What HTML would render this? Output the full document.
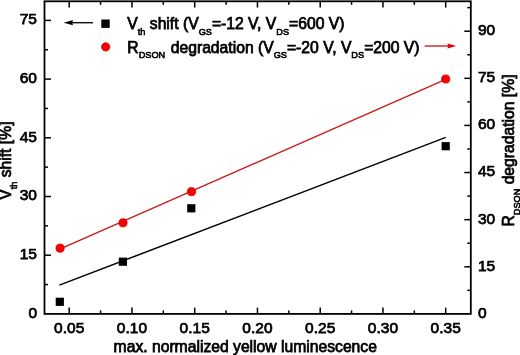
<!DOCTYPE html>
<html><head><meta charset="utf-8"><style>
html,body{margin:0;padding:0;background:#fff;}
body{width:520px;height:355px;overflow:hidden;}
svg{display:block;}
text{font-family:"Liberation Sans",Arial,sans-serif;fill:#000;stroke:#000;}
.tl{font-size:15.5px;stroke-width:0.75px;}
.t{font-size:15.7px;stroke-width:0.75px;}
.s{font-size:9.2px;stroke-width:0.6px;}
</style></head><body>
<svg width="520" height="355" viewBox="0 0 520 355">
<rect x="44.5" y="1.3" width="426.30" height="312.60" fill="none" stroke="#000" stroke-width="1.8"/>
<line x1="69.20" y1="313.9" x2="69.20" y2="307.60" stroke="#000" stroke-width="1.5"/>
<line x1="69.20" y1="1.3" x2="69.20" y2="7.60" stroke="#000" stroke-width="1.5"/>
<text class="tl" x="69.20" y="333.4" text-anchor="middle">0.05</text>
<line x1="100.58" y1="313.9" x2="100.58" y2="310.40" stroke="#000" stroke-width="1.5"/>
<line x1="100.58" y1="1.3" x2="100.58" y2="4.80" stroke="#000" stroke-width="1.5"/>
<line x1="131.95" y1="313.9" x2="131.95" y2="307.60" stroke="#000" stroke-width="1.5"/>
<line x1="131.95" y1="1.3" x2="131.95" y2="7.60" stroke="#000" stroke-width="1.5"/>
<text class="tl" x="131.95" y="333.4" text-anchor="middle">0.10</text>
<line x1="163.32" y1="313.9" x2="163.32" y2="310.40" stroke="#000" stroke-width="1.5"/>
<line x1="163.32" y1="1.3" x2="163.32" y2="4.80" stroke="#000" stroke-width="1.5"/>
<line x1="194.70" y1="313.9" x2="194.70" y2="307.60" stroke="#000" stroke-width="1.5"/>
<line x1="194.70" y1="1.3" x2="194.70" y2="7.60" stroke="#000" stroke-width="1.5"/>
<text class="tl" x="194.70" y="333.4" text-anchor="middle">0.15</text>
<line x1="226.07" y1="313.9" x2="226.07" y2="310.40" stroke="#000" stroke-width="1.5"/>
<line x1="226.07" y1="1.3" x2="226.07" y2="4.80" stroke="#000" stroke-width="1.5"/>
<line x1="257.45" y1="313.9" x2="257.45" y2="307.60" stroke="#000" stroke-width="1.5"/>
<line x1="257.45" y1="1.3" x2="257.45" y2="7.60" stroke="#000" stroke-width="1.5"/>
<text class="tl" x="257.45" y="333.4" text-anchor="middle">0.20</text>
<line x1="288.82" y1="313.9" x2="288.82" y2="310.40" stroke="#000" stroke-width="1.5"/>
<line x1="288.82" y1="1.3" x2="288.82" y2="4.80" stroke="#000" stroke-width="1.5"/>
<line x1="320.20" y1="313.9" x2="320.20" y2="307.60" stroke="#000" stroke-width="1.5"/>
<line x1="320.20" y1="1.3" x2="320.20" y2="7.60" stroke="#000" stroke-width="1.5"/>
<text class="tl" x="320.20" y="333.4" text-anchor="middle">0.25</text>
<line x1="351.57" y1="313.9" x2="351.57" y2="310.40" stroke="#000" stroke-width="1.5"/>
<line x1="351.57" y1="1.3" x2="351.57" y2="4.80" stroke="#000" stroke-width="1.5"/>
<line x1="382.95" y1="313.9" x2="382.95" y2="307.60" stroke="#000" stroke-width="1.5"/>
<line x1="382.95" y1="1.3" x2="382.95" y2="7.60" stroke="#000" stroke-width="1.5"/>
<text class="tl" x="382.95" y="333.4" text-anchor="middle">0.30</text>
<line x1="414.33" y1="313.9" x2="414.33" y2="310.40" stroke="#000" stroke-width="1.5"/>
<line x1="414.33" y1="1.3" x2="414.33" y2="4.80" stroke="#000" stroke-width="1.5"/>
<line x1="445.70" y1="313.9" x2="445.70" y2="307.60" stroke="#000" stroke-width="1.5"/>
<line x1="445.70" y1="1.3" x2="445.70" y2="7.60" stroke="#000" stroke-width="1.5"/>
<text class="tl" x="445.70" y="333.4" text-anchor="middle">0.35</text>
<line x1="44.5" y1="284.55" x2="48.0" y2="284.55" stroke="#000" stroke-width="1.5"/>
<line x1="44.5" y1="255.20" x2="51.0" y2="255.20" stroke="#000" stroke-width="1.5"/>
<line x1="44.5" y1="225.85" x2="48.0" y2="225.85" stroke="#000" stroke-width="1.5"/>
<line x1="44.5" y1="196.50" x2="51.0" y2="196.50" stroke="#000" stroke-width="1.5"/>
<line x1="44.5" y1="167.15" x2="48.0" y2="167.15" stroke="#000" stroke-width="1.5"/>
<line x1="44.5" y1="137.80" x2="51.0" y2="137.80" stroke="#000" stroke-width="1.5"/>
<line x1="44.5" y1="108.45" x2="48.0" y2="108.45" stroke="#000" stroke-width="1.5"/>
<line x1="44.5" y1="79.10" x2="51.0" y2="79.10" stroke="#000" stroke-width="1.5"/>
<line x1="44.5" y1="49.75" x2="48.0" y2="49.75" stroke="#000" stroke-width="1.5"/>
<line x1="44.5" y1="20.40" x2="51.0" y2="20.40" stroke="#000" stroke-width="1.5"/>
<text class="tl" x="37.0" y="317.80" text-anchor="end">0</text>
<text class="tl" x="37.0" y="259.10" text-anchor="end">15</text>
<text class="tl" x="37.0" y="200.40" text-anchor="end">30</text>
<text class="tl" x="37.0" y="141.70" text-anchor="end">45</text>
<text class="tl" x="37.0" y="83.00" text-anchor="end">60</text>
<text class="tl" x="37.0" y="24.30" text-anchor="end">75</text>
<line x1="470.8" y1="290.34" x2="467.3" y2="290.34" stroke="#000" stroke-width="1.5"/>
<line x1="470.8" y1="266.78" x2="464.3" y2="266.78" stroke="#000" stroke-width="1.5"/>
<line x1="470.8" y1="243.22" x2="467.3" y2="243.22" stroke="#000" stroke-width="1.5"/>
<line x1="470.8" y1="219.67" x2="464.3" y2="219.67" stroke="#000" stroke-width="1.5"/>
<line x1="470.8" y1="196.11" x2="467.3" y2="196.11" stroke="#000" stroke-width="1.5"/>
<line x1="470.8" y1="172.55" x2="464.3" y2="172.55" stroke="#000" stroke-width="1.5"/>
<line x1="470.8" y1="148.99" x2="467.3" y2="148.99" stroke="#000" stroke-width="1.5"/>
<line x1="470.8" y1="125.43" x2="464.3" y2="125.43" stroke="#000" stroke-width="1.5"/>
<line x1="470.8" y1="101.87" x2="467.3" y2="101.87" stroke="#000" stroke-width="1.5"/>
<line x1="470.8" y1="78.32" x2="464.3" y2="78.32" stroke="#000" stroke-width="1.5"/>
<line x1="470.8" y1="54.76" x2="467.3" y2="54.76" stroke="#000" stroke-width="1.5"/>
<line x1="470.8" y1="31.20" x2="464.3" y2="31.20" stroke="#000" stroke-width="1.5"/>
<line x1="470.8" y1="7.64" x2="467.3" y2="7.64" stroke="#000" stroke-width="1.5"/>
<text class="tl" x="478.0" y="317.80">0</text>
<text class="tl" x="478.0" y="270.68">15</text>
<text class="tl" x="478.0" y="223.57">30</text>
<text class="tl" x="478.0" y="176.45">45</text>
<text class="tl" x="478.0" y="129.33">60</text>
<text class="tl" x="478.0" y="82.22">75</text>
<text class="tl" x="478.0" y="35.10">90</text>
<line x1="59.4" y1="285.1" x2="445.8" y2="137.4" stroke="#000" stroke-width="1.5"/>
<line x1="60.3" y1="248.9" x2="445.7" y2="79.3" stroke="#cc1a1a" stroke-width="1.35"/>
<rect x="55.70" y="297.70" width="8.2" height="8.2" fill="#000"/>
<rect x="118.80" y="257.60" width="8.2" height="8.2" fill="#000"/>
<rect x="187.20" y="204.20" width="8.2" height="8.2" fill="#000"/>
<rect x="441.60" y="142.10" width="8.2" height="8.2" fill="#000"/>
<circle cx="60.1" cy="248.2" r="4.1" fill="#fa0000" stroke="#d40008" stroke-width="0.8"/>
<circle cx="123" cy="222.8" r="4.1" fill="#fa0000" stroke="#d40008" stroke-width="0.8"/>
<circle cx="191.5" cy="191.7" r="4.1" fill="#fa0000" stroke="#d40008" stroke-width="0.8"/>
<circle cx="445.7" cy="79" r="4.1" fill="#fa0000" stroke="#d40008" stroke-width="0.8"/>
<line x1="71" y1="22.7" x2="93" y2="22.7" stroke="#111" stroke-width="1.4"/>
<polygon points="63.6,22.7 73,20.1 72.2,22.7 73,25.3" fill="#000"/>
<rect x="101.3" y="19.5" width="8.4" height="8.4" fill="#000"/>
<circle cx="105.7" cy="46.9" r="4.2" fill="#fa0000" stroke="#d40008" stroke-width="0.8"/>
<text class="t" x="127.3" y="29.4">V<tspan class="s" dy="5.6">th</tspan><tspan dy="-5.6"> shift (V</tspan><tspan class="s" dy="5.6">GS</tspan><tspan dy="-5.6">=-12 V, V</tspan><tspan class="s" dy="5.6">DS</tspan><tspan dy="-5.6">=600 V)</tspan></text>
<text class="t" x="127.3" y="52.6">R<tspan class="s" dy="5.6">DSON</tspan><tspan dy="-5.6" dx="1.2"> degradation (V</tspan><tspan class="s" dy="5.6">GS</tspan><tspan dy="-5.6">=-20 V, V</tspan><tspan class="s" dy="5.6">DS</tspan><tspan dy="-5.6">=200 V)</tspan></text>
<line x1="424.6" y1="46" x2="449" y2="46" stroke="#c82020" stroke-width="1.4"/>
<polygon points="456.3,46 447.4,43.5 448.2,46 447.4,48.5" fill="#e00008"/>
<text class="t" x="113.6" y="351.6">max. normalized yellow luminescence</text>
<text class="t" transform="translate(11.4,199.8) rotate(-90)">V<tspan class="s" dy="5.6">th</tspan><tspan dy="-5.6"> shift [%]</tspan></text>
<text class="t" transform="translate(514.0,226.6) rotate(-90)">R<tspan class="s" dy="5.6">DSON</tspan><tspan dy="-5.6"> degradation [%]</tspan></text>
</svg>
</body></html>
